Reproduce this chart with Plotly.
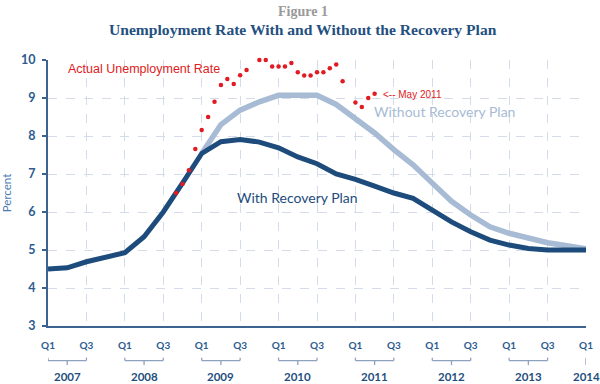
import plotly.graph_objects as go

# ---------------- data ----------------
years = ["2007", "2008", "2009", "2010", "2011", "2012", "2013", "2014"]
quarter_tick_labels = ["Q1", "Q3"] * 7 + ["Q1"]

# quarterly, Q1 2007 .. Q1 2014
with_plan = [4.50, 4.53, 4.69, 4.81, 4.93, 5.35, 6.00, 6.76,
             7.54, 7.85, 7.91, 7.84, 7.69, 7.45, 7.27, 7.00,
             6.86, 6.68, 6.50, 6.36, 6.05, 5.74, 5.48, 5.26,
             5.13, 5.04, 5.00, 5.00, 5.00]
# quarterly, Q1 2009 .. Q1 2014
without_start_quarter = 8
without_plan = [7.54, 8.30, 8.68, 8.90, 9.07, 9.08, 9.07, 8.83,
                8.47, 8.08, 7.64, 7.24, 6.76, 6.28, 5.92, 5.61,
                5.44, 5.31, 5.19, 5.11, 5.03]

# monthly actual unemployment rate (Oct 2008 .. May 2011), Jan 2011 not shown
actual_months = ["2008-10", "2008-11", "2008-12",
                 "2009-01", "2009-02", "2009-03", "2009-04", "2009-05", "2009-06",
                 "2009-07", "2009-08", "2009-09", "2009-10", "2009-11", "2009-12",
                 "2010-01", "2010-02", "2010-03", "2010-04", "2010-05", "2010-06",
                 "2010-07", "2010-08", "2010-09", "2010-10", "2010-11", "2010-12",
                 "2011-02", "2011-03", "2011-04", "2011-05"]
actual_rate = [6.50, 6.74, 7.10,
               7.66, 8.16, 8.50, 8.90, 9.34, 9.50,
               9.37, 9.60, 9.74, 10.10, 10.00, 10.00,
               9.83, 9.83, 9.83, 9.92, 9.68, 9.59,
               9.59, 9.68, 9.68, 9.78, 9.88, 9.44,
               8.88, 8.76, 9.00, 9.11]

# ---------------- helpers ----------------
def month_to_x(s):
    y, m = s.split("-")
    idx = (int(y) - 2007) * 12 + int(m) - 1
    return (idx - 1) / 3.0   # tick of each quarter sits at its middle month


q_x = list(range(len(with_plan)))
wo_x = [without_start_quarter + i for i in range(len(without_plan))]
act_x = [month_to_x(s) for s in actual_months]

DARK = "#1d4c7c"
LIGHT = "#a7bbd4"
RED = "#e01b22"
AXIS = "#3c6390"
TICK = "#2c5c8f"
GRID = "#d3dce8"
BRACKET = "#8ea2c0"

fig = go.Figure()
fig.add_trace(go.Scatter(x=wo_x, y=without_plan, mode="lines",
                         line=dict(color=LIGHT, width=5.5), hoverinfo="skip"))
fig.add_trace(go.Scatter(x=q_x, y=with_plan, mode="lines",
                         line=dict(color=DARK, width=5), hoverinfo="skip"))
fig.add_trace(go.Scatter(x=act_x, y=actual_rate, mode="markers",
                         marker=dict(color=RED, size=4.5), cliponaxis=False,
                         hoverinfo="skip"))

# year brackets below the axis
y_end, y_bar, y_mid = -0.119, -0.130, -0.147
shapes = []
annotations = []
for i, yr in enumerate(years):
    x0 = 4 * i
    if i < len(years) - 1:
        x1 = x0 + 2
        xm = x0 + 1
        shapes += [
            dict(type="line", xref="x", yref="paper", x0=x0, x1=x1, y0=y_bar, y1=y_bar),
            dict(type="line", xref="x", yref="paper", x0=x0, x1=x0, y0=y_end, y1=y_bar),
            dict(type="line", xref="x", yref="paper", x0=x1, x1=x1, y0=y_end, y1=y_bar),
            dict(type="line", xref="x", yref="paper", x0=xm, x1=xm, y0=y_bar, y1=y_mid),
        ]
    else:
        xm = x0
        shapes.append(dict(type="line", xref="x", yref="paper", x0=xm, x1=xm,
                           y0=y_end, y1=y_mid))
    annotations.append(dict(x=xm, y=-0.188, xref="x", yref="paper", text=yr,
                            showarrow=False, xanchor="center", yanchor="middle",
                            font=dict(family="Lato", size=11.5, color="#1f4e7d", weight="bold")))
for s in shapes:
    s["line"] = dict(color=BRACKET, width=1.3)

# titles
annotations += [
    dict(x=0.474, xref="paper", y=1.1805, yref="paper", text="<b>Figure 1</b>",
         showarrow=False, yanchor="middle",
         font=dict(family="Liberation Serif", size=14, color="#9a9a9a")),
    dict(x=0.474, xref="paper", y=1.1128, yref="paper",
         text="<b>Unemployment Rate With and Without the Recovery Plan</b>",
         showarrow=False, yanchor="middle",
         font=dict(family="Liberation Serif", size=15.6, color="#24507f")),
    dict(x=0.94, y=9.76, xref="x", yref="y", text="Actual Unemployment Rate",
         showarrow=False, xanchor="left", yanchor="middle",
         font=dict(family="Liberation Sans", size=12.5, color=RED)),
    dict(x=17.33, y=9.1, xref="x", yref="y", text="&lt;-- May 2011",
         showarrow=False, xanchor="left", yanchor="middle",
         font=dict(family="Liberation Sans", size=10, color=RED)),
    dict(x=16.85, y=8.64, xref="x", yref="y", text="Without Recovery Plan",
         showarrow=False, xanchor="left", yanchor="middle",
         font=dict(family="Lato", size=14, color=LIGHT)),
    dict(x=9.74, y=6.39, xref="x", yref="y", text="With Recovery Plan",
         showarrow=False, xanchor="left", yanchor="middle",
         font=dict(family="Lato", size=14, color=DARK)),
]

fig.update_layout(
    width=600, height=384,
    margin=dict(l=48, r=14, t=60, b=58, autoexpand=False),
    plot_bgcolor="white", paper_bgcolor="white",
    showlegend=False,
    shapes=shapes, annotations=annotations,
    xaxis=dict(range=[0, 28], tickvals=list(range(0, 29, 2)),
               ticktext=quarter_tick_labels, automargin=False,
               showgrid=True, gridcolor=GRID, griddash="dash", gridwidth=1,
               showline=True, linecolor=AXIS, linewidth=2,
               ticks="", ticklabelstandoff=9, zeroline=False,
               tickfont=dict(family="Lato", size=10, color=TICK, weight="bold")),
    yaxis=dict(range=[3, 10], dtick=1, tick0=3, automargin=False,
               showgrid=True, gridcolor=GRID, griddash="dash", gridwidth=1,
               showline=True, linecolor=AXIS, linewidth=2,
               ticks="outside", ticklen=4, tickcolor=AXIS, tickwidth=1.5,
               ticklabelstandoff=4, zeroline=False,
               tickfont=dict(family="Lato", size=12.5, color=TICK, weight="bold"),
               title=dict(text="Percent", standoff=10,
                          font=dict(family="Lato", size=11.5, color="#4a7ab0"))),
)

fig.write_html("out.html", config={"displayModeBar": False},
               post_script="document.body.style.margin='0';document.body.style.overflow='hidden';")
